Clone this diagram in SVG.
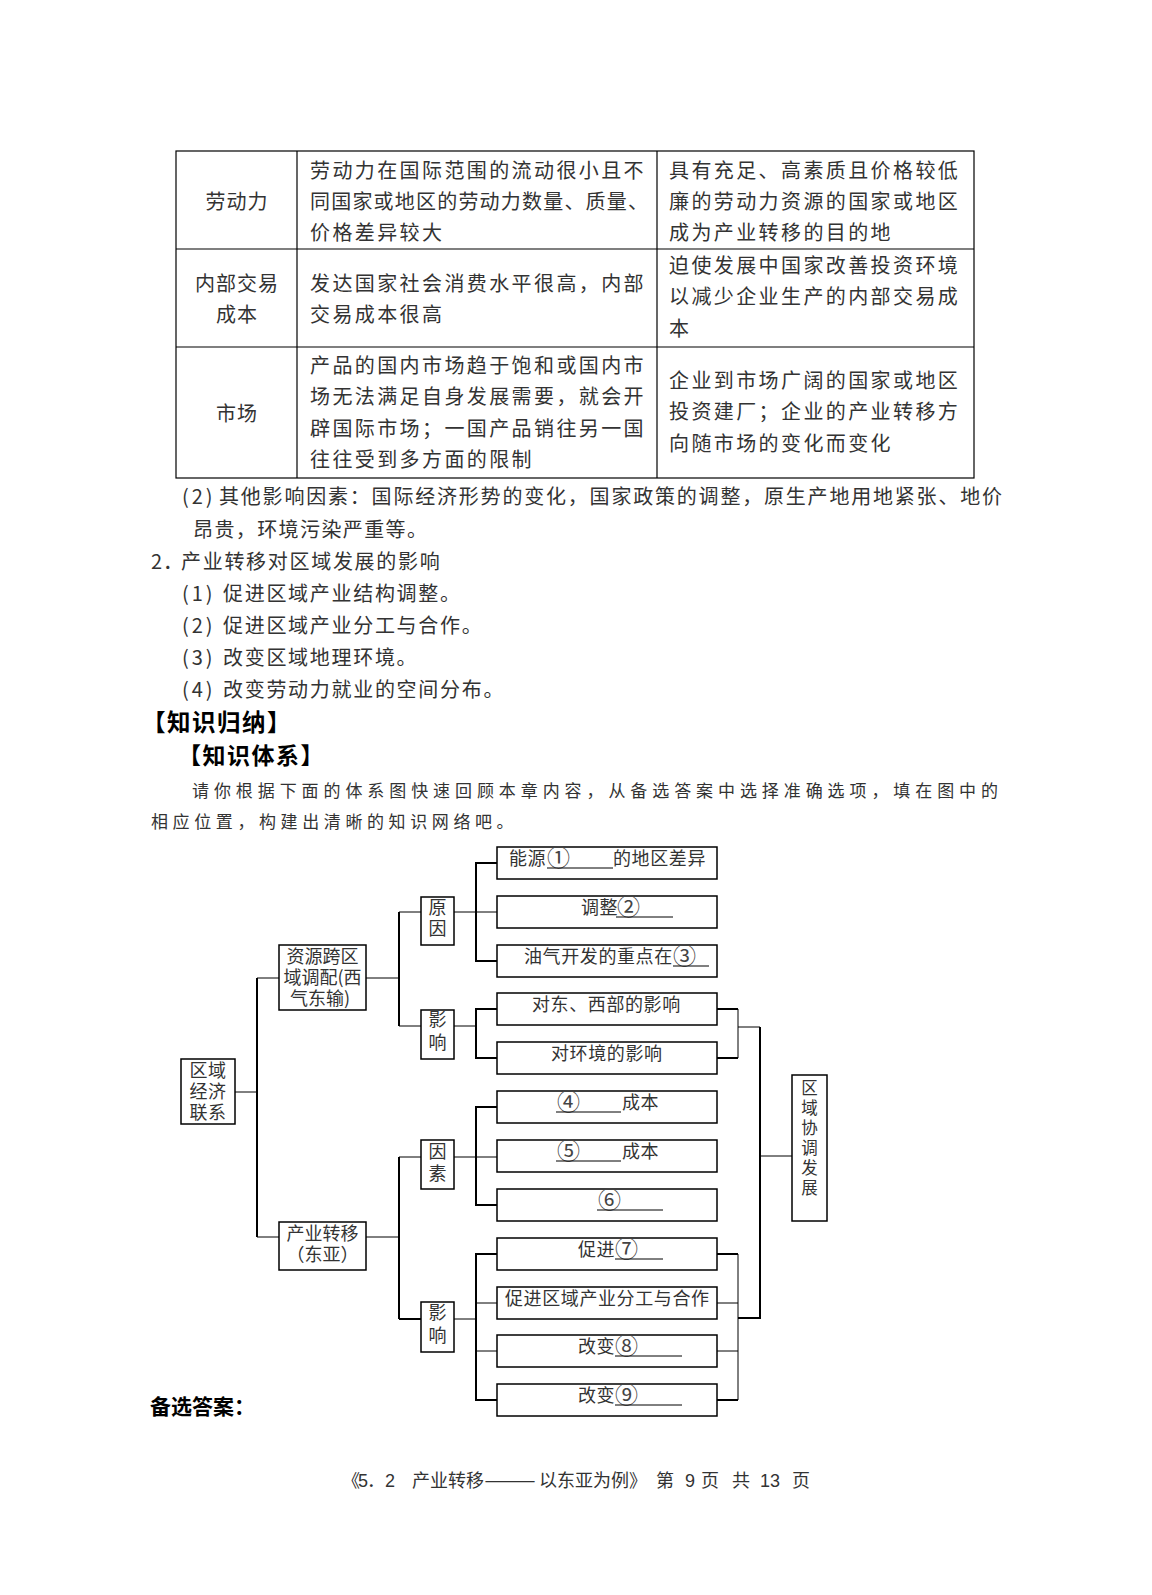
<svg xmlns="http://www.w3.org/2000/svg" width="1152" height="1595" viewBox="0 0 1152 1595">
<style>
text{font-family:"Noto Sans CJK SC","Noto Sans CJK JP",sans-serif;fill:#333}
.tb{font-size:20px;letter-spacing:2.4px}
.c1{font-size:20px;letter-spacing:1px;text-anchor:middle}
.bd{font-size:20px;letter-spacing:1.7px}
.hd{font-weight:bold;fill:#000}
.intro{font-size:17px;letter-spacing:4.6px}
.n{font-size:18px;letter-spacing:0.6px}
.nm{font-size:18px;letter-spacing:0.6px;text-anchor:middle}
.v{font-size:18px;text-anchor:middle}
.vx{font-size:16.5px;text-anchor:middle}
.cd{font-size:23px;fill:#444}
.ft{font-size:18px}
.box{fill:#fff;stroke:#000;stroke-width:1.5}
.grid{stroke:#000;stroke-width:1.2;fill:none}
.thick{stroke:#000;stroke-width:2;fill:none}
.thin{stroke:#000;stroke-width:1;fill:none}
.u{stroke:#000;stroke-width:1}
</style>
<rect width="1152" height="1595" fill="#fff"/>

<g id="table">
<rect class="grid" x="176" y="151" width="798" height="327"/>
<line class="grid" x1="297" y1="151" x2="297" y2="478"/>
<line class="grid" x1="657" y1="151" x2="657" y2="478"/>
<line class="grid" x1="176" y1="249" x2="974" y2="249"/>
<line class="grid" x1="176" y1="347" x2="974" y2="347"/>
<text class="c1" x="237" y="209">劳动力</text>
<text class="tb" x="310" y="178">劳动力在国际范围的流动很小且不</text>
<text class="tb" x="310" y="209" style="letter-spacing:0" textLength="338" lengthAdjust="spacing">同国家或地区的劳动力数量、质量、</text>
<text class="tb" x="310" y="240">价格差异较大</text>
<text class="tb" x="669" y="178">具有充足、高素质且价格较低</text>
<text class="tb" x="669" y="209">廉的劳动力资源的国家或地区</text>
<text class="tb" x="669" y="240">成为产业转移的目的地</text>
<text class="c1" x="237" y="291">内部交易</text>
<text class="c1" x="237" y="322">成本</text>
<text class="tb" x="310" y="291">发达国家社会消费水平很高，内部</text>
<text class="tb" x="310" y="322">交易成本很高</text>
<text class="tb" x="669" y="273">迫使发展中国家改善投资环境</text>
<text class="tb" x="669" y="304">以减少企业生产的内部交易成</text>
<text class="tb" x="669" y="336">本</text>
<text class="c1" x="237" y="421">市场</text>
<text class="tb" x="310" y="373">产品的国内市场趋于饱和或国内市</text>
<text class="tb" x="310" y="404">场无法满足自身发展需要，就会开</text>
<text class="tb" x="310" y="436">辟国际市场；一国产品销往另一国</text>
<text class="tb" x="310" y="467">往往受到多方面的限制</text>
<text class="tb" x="669" y="388">企业到市场广阔的国家或地区</text>
<text class="tb" x="669" y="419">投资建厂；企业的产业转移方</text>
<text class="tb" x="669" y="451">向随市场的变化而变化</text>
</g>

<g id="body-text">
<text class="bd" x="182" y="504" style="letter-spacing:3px">(2)</text>
<text class="bd" x="219" y="504" style="letter-spacing:0" textLength="783" lengthAdjust="spacing">其他影响因素：国际经济形势的变化，国家政策的调整，原生产地用地紧张、地价</text>
<text class="bd" x="193" y="537" style="letter-spacing:1.4px">昂贵，环境污染严重等。</text>
<text class="bd" x="151" y="569" style="letter-spacing:1px">2．</text>
<text class="bd" x="181" y="569">产业转移对区域发展的影响</text>
<text class="bd" x="182" y="601" style="letter-spacing:3px">(1)</text>
<text class="bd" x="223" y="601">促进区域产业结构调整。</text>
<text class="bd" x="182" y="633" style="letter-spacing:3px">(2)</text>
<text class="bd" x="223" y="633">促进区域产业分工与合作。</text>
<text class="bd" x="182" y="665" style="letter-spacing:3px">(3)</text>
<text class="bd" x="223" y="665">改变区域地理环境。</text>
<text class="bd" x="182" y="697" style="letter-spacing:3px">(4)</text>
<text class="bd" x="223" y="697">改变劳动力就业的空间分布。</text>
<text class="hd" x="142" y="731" font-size="23.5" letter-spacing="1.5">【知识归纳】</text>
<text class="hd" x="178" y="764" font-size="23" letter-spacing="1.5">【知识体系】</text>
<text class="intro" x="192" y="797" style="letter-spacing:0" textLength="806" lengthAdjust="spacing">请你根据下面的体系图快速回顾本章内容，从备选答案中选择准确选项，填在图中的</text>
<text class="intro" x="151" y="828">相应位置，构建出清晰的知识网络吧。</text>
</g>

<g id="connectors">
<line class="thin" x1="235" y1="1092" x2="257" y2="1092"/>
<line class="thick" x1="257" y1="978" x2="257" y2="1237"/>
<line class="thin" x1="257" y1="978" x2="279" y2="978"/>
<line class="thin" x1="257" y1="1237" x2="279" y2="1237"/>
<line class="thin" x1="366" y1="978" x2="399" y2="978"/>
<line class="thick" x1="399" y1="912" x2="399" y2="1026"/>
<line class="thin" x1="399" y1="912" x2="421" y2="912"/>
<line class="thin" x1="399" y1="1026" x2="421" y2="1026"/>
<line class="thin" x1="454" y1="912" x2="497" y2="912"/>
<path class="thick" d="M497,863 H476 V961 H497"/>
<line class="thin" x1="454" y1="1026" x2="476" y2="1026"/>
<path class="thick" d="M497,1009 H476 V1058 H497"/>
<line class="thin" x1="366" y1="1237" x2="399" y2="1237"/>
<line class="thick" x1="399" y1="1157" x2="399" y2="1319"/>
<line class="thin" x1="399" y1="1157" x2="421" y2="1157"/>
<line class="thick" x1="399" y1="1319" x2="421" y2="1319"/>
<line class="thin" x1="454" y1="1157" x2="497" y2="1157"/>
<path class="thick" d="M497,1107 H476 V1205 H497"/>
<line class="thin" x1="454" y1="1319" x2="476" y2="1319"/>
<path class="thick" d="M497,1254 H476 V1400 H497"/>
<line class="thin" x1="476" y1="1303" x2="497" y2="1303"/>
<line class="thin" x1="476" y1="1351" x2="497" y2="1351"/>
<line class="thick" x1="717" y1="1009" x2="738" y2="1009"/>
<line class="thick" x1="717" y1="1058" x2="738" y2="1058"/>
<line class="thin" x1="738" y1="1009" x2="738" y2="1058"/>
<line class="thin" x1="738" y1="1027" x2="760" y2="1027"/>
<line class="thick" x1="760" y1="1027" x2="760" y2="1319"/>
<line class="thin" x1="760" y1="1156" x2="792" y2="1156"/>
<line class="thick" x1="717" y1="1254" x2="738" y2="1254"/>
<line class="thin" x1="717" y1="1303" x2="738" y2="1303"/>
<line class="thin" x1="717" y1="1351" x2="738" y2="1351"/>
<line class="thick" x1="717" y1="1400" x2="738" y2="1400"/>
<line class="thin" x1="738" y1="1254" x2="738" y2="1400"/>
<line class="thick" x1="738" y1="1318" x2="760" y2="1318"/>
</g>

<g id="node-quyu">
<rect class="box" x="181" y="1059" width="54" height="65"/>
<text class="nm" x="208" y="1077">区域</text>
<text class="nm" x="208" y="1098">经济</text>
<text class="nm" x="208" y="1119">联系</text>
</g>
<g id="node-ziyuan">
<rect class="box" x="279" y="945" width="87" height="65"/>
<text class="v" x="322.5" y="963">资源跨区</text>
<text class="v" x="322.5" y="984">域调配(西</text>
<text class="v" x="320" y="1005">气东输)</text>
</g>
<g id="node-chanye">
<rect class="box" x="279" y="1222" width="87" height="48"/>
<text class="v" x="322.5" y="1240">产业转移</text>
<text class="v" x="322.5" y="1261">（东亚）</text>
</g>
<g id="node-yuanyin">
<rect class="box" x="421" y="897" width="33" height="48"/>
<text class="v" x="437.5" y="914">原</text>
<text class="v" x="437.5" y="935">因</text>
</g>
<g id="node-yingxiang1">
<rect class="box" x="421" y="1010" width="33" height="49"/>
<text class="v" x="437.5" y="1026">影</text>
<text class="v" x="437.5" y="1049">响</text>
</g>
<g id="node-yinsu">
<rect class="box" x="421" y="1140" width="33" height="49"/>
<text class="v" x="437.5" y="1158">因</text>
<text class="v" x="437.5" y="1180">素</text>
</g>
<g id="node-yingxiang2">
<rect class="box" x="421" y="1302" width="33" height="50"/>
<text class="v" x="437.5" y="1319">影</text>
<text class="v" x="437.5" y="1342">响</text>
</g>

<g id="box1">
<rect class="box" x="497" y="847" width="220" height="32"/>
<text class="n" x="509" y="865">能源</text>
<text class="cd" x="547" y="866">①</text>
<line class="u" x1="547" y1="868" x2="613" y2="868"/>
<text class="n" x="613" y="865">的地区差异</text>
</g>
<g id="box2">
<rect class="box" x="497" y="896" width="220" height="32"/>
<text class="n" x="581" y="914">调整</text>
<text class="cd" x="617" y="915">②</text>
<line class="u" x1="616" y1="917" x2="673" y2="917"/>
</g>
<g id="box3">
<rect class="box" x="497" y="945" width="220" height="32"/>
<text class="n" x="524" y="963">油气开发的重点在</text>
<text class="cd" x="673" y="964">③</text>
<line class="u" x1="673" y1="966" x2="709" y2="966"/>
</g>
<g id="box4">
<rect class="box" x="497" y="993" width="220" height="32"/>
<text class="n" x="532" y="1011">对东、西部的影响</text>
</g>
<g id="box5">
<rect class="box" x="497" y="1042" width="220" height="32"/>
<text class="n" x="551" y="1060">对环境的影响</text>
</g>
<g id="box6">
<rect class="box" x="497" y="1091" width="220" height="32"/>
<text class="cd" x="557" y="1110">④</text>
<line class="u" x1="556" y1="1112" x2="621" y2="1112"/>
<text class="n" x="622" y="1109">成本</text>
</g>
<g id="box7">
<rect class="box" x="497" y="1140" width="220" height="32"/>
<text class="cd" x="557" y="1159">⑤</text>
<line class="u" x1="556" y1="1161" x2="621" y2="1161"/>
<text class="n" x="622" y="1158">成本</text>
</g>
<g id="box8">
<rect class="box" x="497" y="1189" width="220" height="32"/>
<text class="cd" x="598" y="1208">⑥</text>
<line class="u" x1="597" y1="1210" x2="663" y2="1210"/>
</g>
<g id="box9">
<rect class="box" x="497" y="1238" width="220" height="32"/>
<text class="n" x="578" y="1256">促进</text>
<text class="cd" x="615" y="1257">⑦</text>
<line class="u" x1="615" y1="1259" x2="663" y2="1259"/>
</g>
<g id="box10">
<rect class="box" x="497" y="1287" width="220" height="32"/>
<text class="n" x="505" y="1305">促进区域产业分工与合作</text>
</g>
<g id="box11">
<rect class="box" x="497" y="1335" width="220" height="32"/>
<text class="n" x="578" y="1353">改变</text>
<text class="cd" x="615" y="1354">⑧</text>
<line class="u" x1="615" y1="1356" x2="682" y2="1356"/>
</g>
<g id="box12">
<rect class="box" x="497" y="1384" width="220" height="32"/>
<text class="n" x="578" y="1402">改变</text>
<text class="cd" x="615" y="1403">⑨</text>
<line class="u" x1="615" y1="1405" x2="682" y2="1405"/>
</g>

<g id="node-xietiao">
<rect class="box" x="792" y="1075" width="35" height="146"/>
<text class="vx" x="809.5" y="1094">区</text>
<text class="vx" x="809.5" y="1114">域</text>
<text class="vx" x="809.5" y="1134">协</text>
<text class="vx" x="809.5" y="1154">调</text>
<text class="vx" x="809.5" y="1174">发</text>
<text class="vx" x="809.5" y="1194">展</text>
</g>

<g id="footer">
<text class="hd" x="150" y="1414" font-size="21">备选答案：</text>
<text class="ft" y="1487"><tspan x="342">《</tspan><tspan x="358" font-family="Liberation Sans">5</tspan><tspan x="367">．</tspan><tspan x="385" font-family="Liberation Sans">2</tspan><tspan x="412">产业转移</tspan></text>
<text class="ft" x="484" y="1487" textLength="52" lengthAdjust="spacingAndGlyphs">——</text>
<text class="ft" y="1487"><tspan x="539">以东亚为例》</tspan><tspan x="656">第</tspan><tspan x="685" font-family="Liberation Sans">9</tspan><tspan x="701">页</tspan><tspan x="732">共</tspan><tspan x="760" font-family="Liberation Sans">13</tspan><tspan x="792">页</tspan></text>
</g>
</svg>
